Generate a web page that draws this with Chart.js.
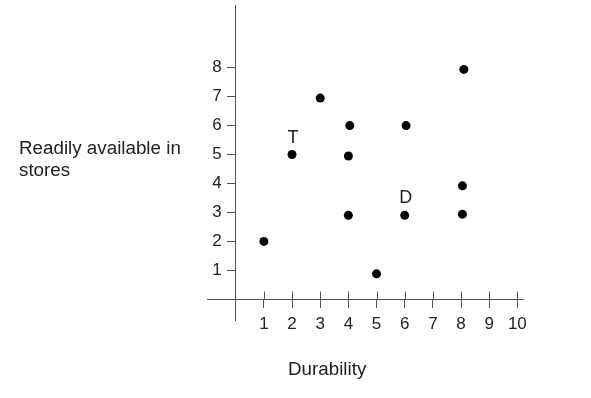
<!DOCTYPE html>
<html>
<head>
<meta charset="utf-8">
<script src="https://cdn.jsdelivr.net/npm/chart.js@4/dist/chart.umd.min.js"></script>
<style>
  html, body { margin: 0; padding: 0; background: #fff; }
  #wrap { position: relative; width: 591px; height: 398px; }
  canvas { position: absolute; left: 0; top: 0; }
  .lbl { position: absolute; font-family: 'Liberation Sans', Arial, sans-serif; font-size: 18.8px; color: #222; line-height: 22px; white-space: nowrap; }
</style>
</head>
<body>
<div id="wrap">
  <canvas id="c" width="591" height="398"></canvas>
  <div class="lbl" id="ytitle" style="left:19px; top:137px;">Readily available in<br>stores</div>
  <div class="lbl" id="xtitle" style="left:288px; top:358px;">Durability</div>
</div>
<script>
// ---- data ----
const xTickValues = [1, 2, 3, 4, 5, 6, 7, 8, 9, 10];
const yTickValues = [1, 2, 3, 4, 5, 6, 7, 8];
const durability   = [1, 2, 3,    4.05, 4,    4,   5,    6,   6.05, 8.05, 8.05, 8.1];
const availability = [2, 5, 6.95, 6,    4.95, 2.9, 0.88, 2.9, 6,    3.92, 2.94, 7.94];
const pointNames   = ['', 'T', '', '', '', '', '', 'D', '', '', '', ''];

const FONT = "'Liberation Sans', Arial, sans-serif";
Chart.defaults.font.family = FONT;

const points = durability.map((x, i) => ({ x: x, y: availability[i] }));

const X_MIN = -1.019, X_MAX = 10.2, Y_MIN = -0.715, Y_MAX = 10.166;
const Y_LABEL_X = -0.497; // x value where the y tick labels end (right aligned)

const noPad = s => { s.paddingTop = 0; s.paddingBottom = 0; s.paddingLeft = 0; s.paddingRight = 0; };

const upTicks = {
  id: 'upTicks',
  beforeDatasetsDraw(chart) {
    const xs = chart.scales.x, ys = chart.scales.y;
    const y0 = Math.round(ys.getPixelForValue(0)) + 0.5;
    const ctx = chart.ctx;
    ctx.save();
    ctx.strokeStyle = '#555';
    ctx.lineWidth = 1;
    ctx.beginPath();
    xTickValues.forEach(v => {
      const px = Math.round(xs.getPixelForValue(v)) + 0.5;
      ctx.moveTo(px, y0 - 8);
      ctx.lineTo(px, y0);
    });
    ctx.stroke();
    ctx.restore();
  }
};

const pointText = {
  id: 'pointText',
  afterDatasetsDraw(chart) {
    const meta = chart.getDatasetMeta(0);
    const ctx = chart.ctx;
    ctx.save();
    ctx.font = '18px ' + FONT;
    ctx.fillStyle = '#222';
    ctx.textAlign = 'center';
    ctx.textBaseline = 'alphabetic';
    meta.data.forEach((el, i) => {
      if (pointNames[i]) ctx.fillText(pointNames[i], el.x + 1, el.y - 12);
    });
    ctx.restore();
  }
};

new Chart(document.getElementById('c'), {
  type: 'scatter',
  data: {
    datasets: [{
      data: points,
      xAxisID: 'x',
      yAxisID: 'y',
      backgroundColor: '#000',
      borderColor: '#000',
      pointRadius: 4.5,
      pointHoverRadius: 4.5,
      borderWidth: 0
    }]
  },
  options: {
    responsive: false,
    animation: false,
    events: [],
    layout: { padding: { left: 207, right: 68, top: 5, bottom: 78 } },
    plugins: { legend: { display: false }, tooltip: { enabled: false } },
    scales: {
      x: {
        type: 'linear',
        position: { y: 0 },
        min: X_MIN,
        max: X_MAX,
        afterBuildTicks: s => { s.ticks = xTickValues.map(v => ({ value: v })); },
        afterFit: noPad,
        grid: { display: true, drawOnChartArea: false, drawTicks: true, tickLength: 8, color: '#555', lineWidth: 1 },
        border: { display: true, color: '#555', width: 1 },
        ticks: { font: { size: 17 }, color: '#222', padding: 7, maxRotation: 0, autoSkip: false }
      },
      y: {
        type: 'linear',
        position: { x: 0 },
        min: Y_MIN,
        max: Y_MAX,
        afterBuildTicks: s => { s.ticks = yTickValues.map(v => ({ value: v })); },
        afterFit: noPad,
        grid: { display: true, drawOnChartArea: false, drawTicks: true, tickLength: 8, color: '#555', lineWidth: 1 },
        border: { display: true, color: '#555', width: 1 },
        ticks: { display: false }
      },
      yLabels: {
        type: 'linear',
        axis: 'y',
        position: { x: Y_LABEL_X },
        min: Y_MIN,
        max: Y_MAX,
        afterBuildTicks: s => { s.ticks = yTickValues.map(v => ({ value: v })); },
        afterFit: noPad,
        grid: { display: false },
        border: { display: false },
        ticks: { font: { size: 17 }, color: '#222', padding: 0, autoSkip: false }
      }
    }
  },
  plugins: [upTicks, pointText]
});
</script>
</body>
</html>
